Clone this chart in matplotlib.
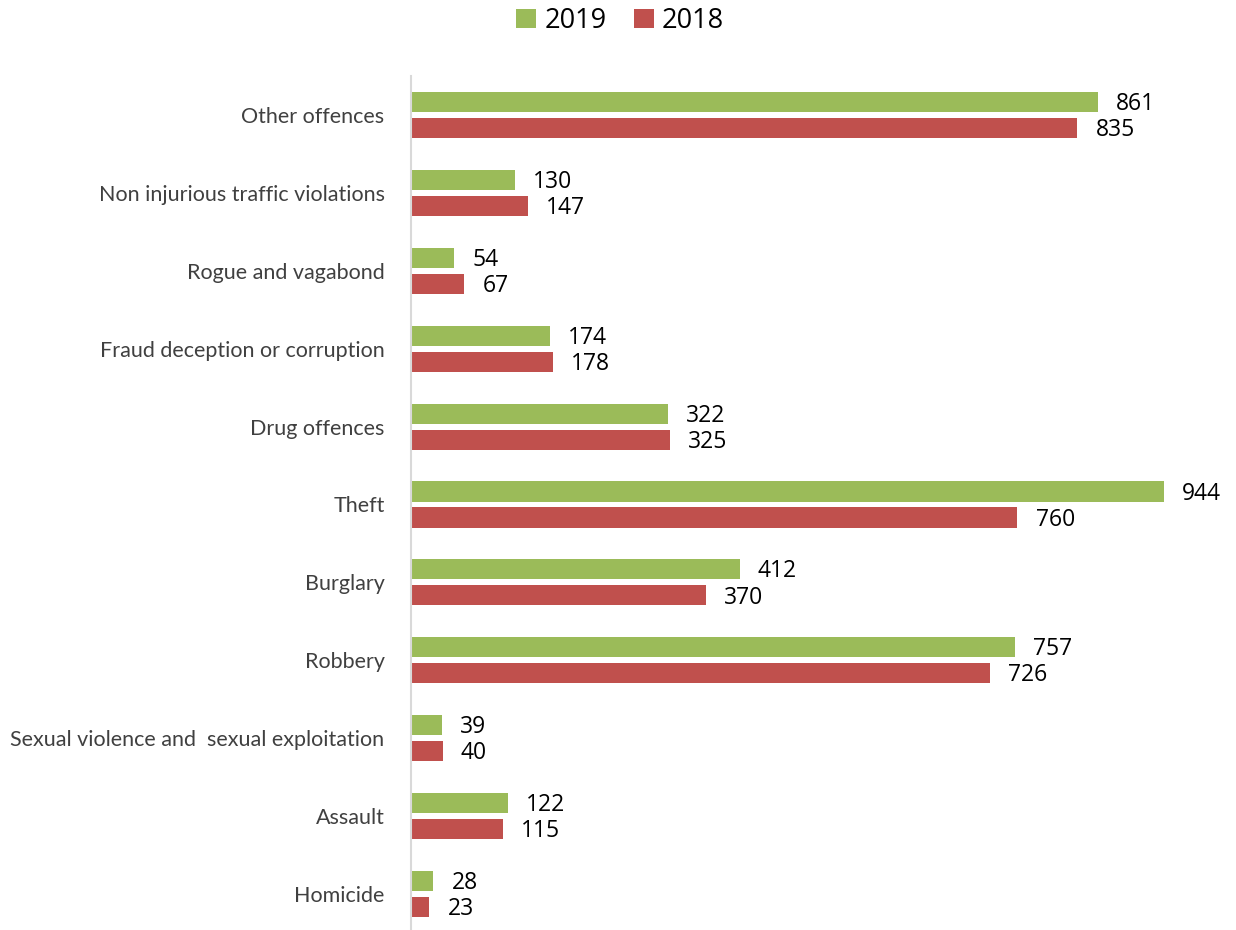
import matplotlib
matplotlib.use("Agg")
import matplotlib.pyplot as plt
import numpy as np

categories = ["Other offences", "Non injurious traffic violations", "Rogue and vagabond",
              "Fraud deception or corruption", "Drug offences", "Theft", "Burglary",
              "Robbery", "Sexual violence and  sexual exploitation", "Assault", "Homicide"]
values_2019 = [861, 130, 54, 174, 322, 944, 412, 757, 39, 122, 28]
values_2018 = [835, 147, 67, 178, 325, 760, 370, 726, 40, 115, 23]

green = "#9BBB59"
red = "#C0504D"

fig = plt.figure(figsize=(12.36, 9.3), dpi=100)
W, H = 1236, 930
ax = fig.add_axes([411 / W, -3 / H, (1209 - 411) / W, (933 - 76) / H])

y = np.arange(len(categories))
h = 0.257
off = 0.167
b1 = ax.barh(y - off, values_2019, height=h, color=green, label="2019")
b2 = ax.barh(y + off, values_2018, height=h, color=red, label="2018")

ax.set_ylim(len(categories) - 0.5, -0.5)
ax.set_xlim(0, 1000)

for bars, vals in ((b1, values_2019), (b2, values_2018)):
    for bar, v in zip(bars, vals):
        ax.annotate(str(v), (v, bar.get_y() + bar.get_height() / 2),
                    xytext=(13, -1.5), textcoords="offset points",
                    ha="left", va="center", fontsize=16.5, family="Open Sans",
                    color="#000000")

ax.set_yticks(y)
ax.set_yticklabels(categories, fontsize=15.5, family="Lato", color="#404040")
ax.tick_params(axis="y", length=0, pad=19)
ax.set_xticks([])
for s in ["top", "right", "bottom"]:
    ax.spines[s].set_visible(False)
ax.spines["left"].set_color("#D9D9D9")
ax.spines["left"].set_linewidth(1.5)

leg = fig.legend(handles=[b1, b2], labels=["2019", "2018"], loc="center",
                 bbox_to_anchor=(620 / W, 1 - 21 / H), ncol=2, frameon=False,
                 prop={"family": "Open Sans", "size": 19.5},
                 handlelength=0.75, handleheight=0.75, handletextpad=0.3,
                 columnspacing=1.0)

fig.savefig("out.png", dpi=100)
